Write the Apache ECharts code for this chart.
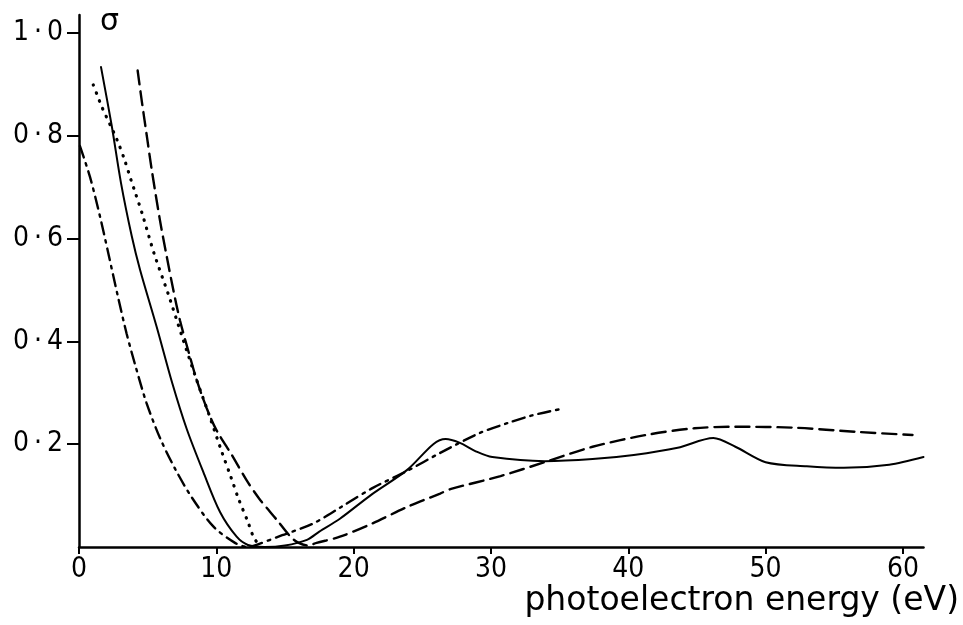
<!DOCTYPE html>
<html>
<head>
<meta charset="utf-8">
<script src="https://cdn.jsdelivr.net/npm/echarts@6/dist/echarts.min.js"></script>
<style>html,body{margin:0;padding:0;background:#fff}#c{width:963px;height:625px}</style>
</head>
<body>
<div id="c"></div>
<script>
// tick values and labels
var xTicks = [0, 10, 20, 30, 40, 50, 60];
var xTickLabels = ['0', '10', '20', '30', '40', '50', '60'];
var yTicks = [0.2, 0.4, 0.6, 0.8, 1.0];
var yTickLabels = ['0\u2009·\u20092', '0\u2009·\u20094', '0\u2009·\u20096', '0\u2009·\u20098', '1\u2009·\u20090'];
var xName = 'photoelectron energy (eV)';
var yName = 'σ';

// curves: [photoelectron energy (eV), sigma]
var solidPoints = [[1.6,0.934],[2.38,0.82],[3.06,0.708],[3.84,0.605],[4.44,0.54],[5.66,0.428],[6.8,0.318],[7.84,0.23],[9.05,0.146],[10.27,0.068],[11.48,0.02],[12.3,0.004],[13.5,0],[15,0.003],[16.6,0.014],[17.5,0.03],[19.0,0.055],[21.3,0.102],[23.9,0.150],[25.8,0.200],[26.7,0.210],[27.7,0.203],[29,0.185],[30.1,0.175],[33.9,0.167],[37.4,0.171],[40.4,0.179],[43.6,0.193],[46.2,0.212],[47.8,0.195],[50,0.165],[53,0.157],[55.7,0.154],[59,0.160],[61.5,0.175]];
var dashDotPoints = [[0.07,0.78],[0.8,0.72],[1.53,0.643],[2.13,0.572],[2.81,0.49],[3.47,0.415],[4.2,0.344],[4.92,0.28],[5.9,0.212],[7.0,0.152],[8.2,0.097],[9.78,0.04],[11.36,0.008],[12.3,0],[12.7,0.002],[14.8,0.023],[17.0,0.045],[19.1,0.078],[21.4,0.115],[23.9,0.148],[26.3,0.183],[29.2,0.222],[31.2,0.241],[33,0.256],[35,0.268]];
var dottedPoints = [[1.04,0.899],[1.36,0.877],[1.65,0.857],[2.77,0.792],[3.32,0.753],[3.8,0.713],[4.09,0.69],[4.63,0.646],[5.48,0.57],[6.5,0.492],[7.5,0.41],[8.5,0.33],[9.5,0.255],[10.4,0.185],[11.05,0.137],[11.6,0.095],[12.3,0.049],[12.7,0.02],[13.1,0.004]];
var dashedPoints = [[4.27,0.927],[4.56,0.87],[4.98,0.792],[5.29,0.735],[5.9,0.635],[6.34,0.572],[6.87,0.5],[7.36,0.44],[8.03,0.375],[8.57,0.325],[9.3,0.27],[10.0,0.228],[11.2,0.176],[12.2,0.13],[13.1,0.095],[14.4,0.053],[15.4,0.02],[16.0,0.008],[16.7,0.003],[17.3,0.008],[19.0,0.02],[21.3,0.045],[23.9,0.078],[26.3,0.104],[27.1,0.113],[30.7,0.138],[33.9,0.165],[37.4,0.195],[41.3,0.218],[44.8,0.231],[47.8,0.234],[52.2,0.232],[56.6,0.224],[60.7,0.218]];

var FONT = "'DejaVu Sans Condensed', 'DejaVu Sans', sans-serif";
function mkSeries(name, pts, type, w) {
  return {
    name: name, type: 'line', data: pts, showSymbol: false, smooth: 0.3,
    lineStyle: { color: '#000', width: w, type: type, cap: 'round' }, silent: true, animation: false, z: 3
  };
}
var chart = echarts.init(document.getElementById('c'), null, { renderer: 'canvas' });
chart.setOption({
  backgroundColor: '#fff',
  animation: false,
  grid: { left: 79, right: 39.5, top: 15, bottom: 78, containLabel: false },
  xAxis: {
    type: 'value', min: 0, max: 61.5,
    axisLine: { show: true, onZero: false, lineStyle: { color: '#000', width: 2.5 } },
    axisTick: { show: true, length: 7, inside: false, customValues: xTicks, lineStyle: { color: '#000', width: 2 } },
    axisLabel: { customValues: xTicks, margin: 9, color: '#000', fontSize: 28, fontFamily: FONT,
      formatter: function (v) { var i = xTicks.indexOf(v); return i >= 0 ? xTickLabels[i] : ''; } },
    splitLine: { show: false }
  },
  yAxis: {
    type: 'value', min: 0, max: 1.035,
    axisLine: { show: true, onZero: false, lineStyle: { color: '#000', width: 2.5 } },
    axisTick: { show: true, length: 12, inside: false, customValues: yTicks, lineStyle: { color: '#000', width: 2 } },
    axisLabel: { customValues: yTicks, margin: 16, color: '#000', fontSize: 28, fontFamily: FONT,
      formatter: function (v) { for (var i = 0; i < yTicks.length; i++) { if (Math.abs(yTicks[i] - v) < 1e-6) return yTickLabels[i]; } return ''; } },
    splitLine: { show: false }
  },
  graphic: [
    { type: 'text', left: 100, top: 7, style: { text: yName, font: "30px 'DejaVu Sans', sans-serif", fill: '#000' } },
    { type: 'text', right: 4, top: 585, style: { text: xName, font: "33px 'DejaVu Sans', sans-serif", fill: '#000' } }
  ],
  series: [
    mkSeries('solid', solidPoints, 'solid', 2),
    mkSeries('dash-dot', dashDotPoints, [12, 6, 2.5, 6], 2.4),
    mkSeries('dotted', dottedPoints, [0.5, 8], 3.2),
    mkSeries('dashed', dashedPoints, [14, 7], 2.4)
  ]
});
</script>
</body>
</html>
